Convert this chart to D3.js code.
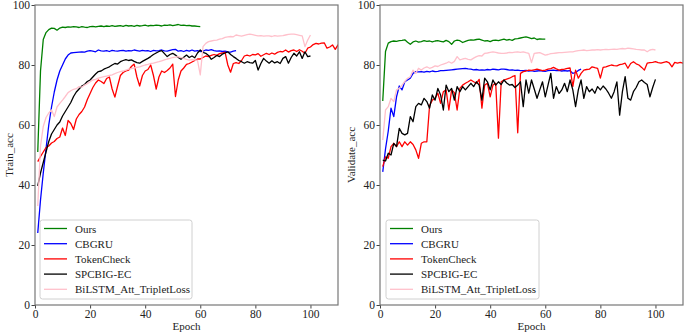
<!DOCTYPE html>
<html>
<head>
<meta charset="utf-8">
<script src="https://cdn.jsdelivr.net/npm/d3@7"></script>
<style>
  body { margin: 0; background: #fff; }
  svg text { font-family: "Liberation Serif", "Times New Roman", serif; fill: #222; }
</style>
</head>
<body>
<script>
// legend names, in plotting order
const seriesNames = ["Ours", "CBGRU", "TokenCheck", "SPCBIG-EC", "BiLSTM_Att_TripletLoss"];
const xTicks = [0, 20, 40, 60, 80, 100];
const yTicks = [0, 20, 40, 60, 80, 100];

// training accuracy per epoch (epoch 1..n)
const trainOurs = [51, 78, 88.5, 90.8, 91.8, 92.3, 92.2, 91.6, 92.3, 92.6, 92.5, 92.7, 92.6, 92.8, 92.7, 92.5, 92.8, 92.6, 92.5, 92.8,
  92.9, 92.7, 92.9, 93.0, 92.8, 93.0, 92.9, 93.1, 92.9, 93.0, 93.1, 92.9, 93.2, 93.0, 93.1, 92.9, 93.2, 93.0, 93.1, 93.3,
  93.0, 93.2, 93.1, 93.3, 93.2, 93.0, 93.3, 93.2, 93.4, 93.1, 93.3, 93.5, 93.2, 93.3, 93.1, 93.2, 93.0, 93.0, 92.9, 92.8];
const trainCbgru = [24, 35, 44, 52, 60, 66, 71, 75, 78, 80, 82, 83.3, 84, 84.1, 84.2, 84.3, 84.4, 84.3, 84.6, 84.8,
  84.6, 84.4, 85.0, 84.7, 84.6, 84.8, 84.5, 84.9, 84.7, 84.6, 84.8, 84.9, 84.6, 84.8, 84.7, 85.0, 84.8, 84.6, 84.9, 84.7,
  84.8, 84.5, 84.9, 84.7, 84.8, 85.0, 84.7, 84.6, 84.9, 85.1, 85.2, 84.6, 84.8, 84.5, 84.9, 84.6, 85.0, 84.6, 84.8, 84.5,
  84.6, 85.0, 84.9, 85.1, 84.8, 84.6, 84.7, 84.5, 84.6, 84.4, 84.3, 84.6, 84.8];
const trainToken = [47.8, 49.5, 51, 52.5, 53, 54, 54.5, 55.5, 56, 59, 56.5, 61.5, 60.5, 58.5, 62, 63.5, 64.5, 66, 68.5, 70.5,
  72.5, 74, 75, 74.5, 73.8, 75.5, 76, 72, 69.3, 73, 76.5, 77.5, 78, 78.3, 79.5, 80.3, 76, 73, 76.5, 78,
  78.5, 80, 76.5, 72, 76, 78, 77.5, 78.2, 79, 80.3, 69.5, 75, 78, 79, 80.2, 80.5, 81, 81.5, 82, 82,
  82.5, 83, 82.8, 83.2, 83.5, 83.2, 83.8, 84, 84.3, 80, 77.6, 80.5, 80.8, 80.5, 81.5, 83, 83.3, 83, 83.5, 83.4,
  83.8, 82.9, 83.4, 83.9, 83.5, 84, 83.6, 84.2, 84.5, 84.4, 85, 84.3, 84.8, 85, 84.5, 85.1, 84.6, 83.9, 85.6, 86,
  86.8, 87.2, 87, 87.3, 87.4, 85.6, 86, 86.7, 85.2, 86.7, 86.3];
const trainSpcbig = [39.7, 44, 47.5, 51, 54.5, 57, 58.5, 60, 61, 63, 64.5, 66, 67.5, 69.5, 71, 72, 73, 73.5, 74.5, 75,
  76, 77, 77.8, 78, 78.6, 79, 79.4, 80, 80.5, 80.3, 81.1, 81.5, 81.8, 81.5, 81.7, 81.2, 80.8, 80.6, 81.2, 81.7,
  82.2, 82.8, 83.5, 84, 84.5, 84.8, 83.8, 82.8, 83.5, 83.9, 83.3, 82.5, 81.9, 82.6, 83.3, 82.5, 83, 82.4, 84, 85,
  84.2, 83.9, 83.2, 81.9, 82.5, 83.2, 82.8, 83.6, 84, 84.4, 83.5, 82.8, 82.2, 81.5, 81.1, 80.6, 81.1, 80.8, 80.6, 81.5,
  78.3, 80.5, 82.2, 81.3, 80.6, 81.4, 80.7, 81.1, 80.5, 82.2, 82.8, 80.6, 82.5, 83.9, 83, 84.4, 82.2, 84.4, 82.8, 83];
const trainBilstm = [33, 53, 59.5, 62.5, 64, 65, 62.8, 66, 67.2, 68.3, 69.5, 70.8, 71.4, 71.9, 72.1, 72.8, 72.6, 73.3, 73.8, 74.4,
  75, 75.2, 75.6, 75.9, 76.1, 76.3, 76.5, 76.7, 77.1, 77.5, 77.8, 78, 78.3, 78.6, 78.8, 79, 79.2, 79.4, 79.7, 80,
  80.2, 80.5, 80.6, 80.9, 81.1, 81.4, 81.7, 82, 82.2, 82.5, 82.6, 82.8, 82.5, 82.2, 81.9, 81.6, 81.8, 81.7, 81.5, 76.7,
  86.1, 87.2, 87.8, 88, 88.2, 88.3, 88.6, 88.8, 89.2, 89.4, 89.5, 89.4, 90, 89.8, 89.6, 89.9, 90.1, 90.3, 90.1, 89.9,
  89.7, 89.8, 89.6, 89.7, 89.7, 89.5, 89.8, 89.6, 89.7, 89.8, 90, 90.2, 90.3, 90.3, 90.1, 89.9, 89.7, 86.1, 88.3, 90];

// validation accuracy per epoch
const valOurs = [68, 84.5, 87.3, 87.8, 88, 87.9, 88.1, 88.2, 88.4, 87.6, 86.9, 87.7, 88, 87.6, 87.8, 88.1, 87.9, 88, 87.7, 88,
  88.1, 87.9, 87.7, 88.2, 87.8, 86.9, 88, 88.3, 88.1, 87.5, 87.9, 88.2, 88.4, 88.3, 88.5, 88.6, 88.3, 88, 88.1, 87.8,
  88.2, 88.3, 88.1, 88.4, 88.6, 88.3, 88.5, 88.2, 88.7, 88.8, 89, 89.2, 89.4, 89.1, 88.8, 89, 88.5, 88.7, 88.6, 88.6];
const valCbgru = [44.4, 52, 58, 65.6, 62.8, 69.4, 73, 71.7, 74.4, 75, 75.6, 77.2, 77.8, 77.7, 77.8, 77.6, 77.9, 77.7, 78, 77.8,
  77.9, 78.1, 78.1, 78.2, 78.3, 78.4, 78.5, 78.6, 78.7, 78.8, 78.9, 78.7, 78.6, 78.4, 78.5, 78.3, 78.4, 78.3, 78.5, 78.4,
  78.6, 78.5, 78.4, 78.6, 78.6, 78.5, 78.3, 78.4, 78.2, 78.3, 78.1, 78.1, 78.2, 78.0, 78.1, 77.9, 78, 78.1, 78, 77.9,
  78.1, 78.2, 78.3, 78.1, 78.2, 78, 78.1, 78, 78.1, 77.2, 77.5, 78.2, 78.6];
const valToken = [46.1, 49.4, 48.9, 52.8, 53.9, 52.8, 54.4, 52.8, 54.4, 53.3, 54.4, 53.5, 51.7, 48.9, 53.9, 54.4, 54.4, 66.5, 68.3, 68.9,
  70.6, 67.2, 71.1, 71.7, 65, 71.7, 70.8, 65, 72.2, 73.3, 73.9, 74.4, 75, 74.4, 73.9, 75.2, 65.6, 73.3, 73.9, 69.4,
  73.3, 73.9, 55.6, 74.4, 75, 75.3, 75.6, 76.1, 76.5, 57.4, 77.2, 77.8, 78, 78.3, 78.2, 78.4, 78.6, 78.4, 78.1, 78.3,
  78.6, 78.8, 79.2, 78.7, 78.3, 78.5, 78.6, 78.9, 79, 72.8, 78.3, 75.6, 77.2, 78.3, 78.5, 78.6, 79.4, 79.1, 78.9, 75.6,
  79.2, 79.4, 79.7, 80, 79.8, 79.7, 80.1, 80.3, 80.6, 78.9, 80.5, 81.1, 80.4, 80, 79.2, 78.3, 80.6, 80.8, 80.9, 81.1,
  80.8, 80.6, 80.9, 81.1, 80.7, 79.4, 80.9, 80.6, 80.9, 80.6, 81];
const valSpcbig = [48.3, 48, 50.6, 50, 53.9, 52.8, 58.9, 57.2, 56.7, 57.2, 62.8, 61.1, 66.1, 67.2, 66.7, 68.9, 67.8, 65.6, 70, 68.3,
  72.2, 70, 65, 73.3, 71.1, 72.2, 68.3, 72.8, 71.1, 72.8, 71.7, 72.8, 73.9, 72.8, 74.4, 73.3, 68.3, 75.6, 74.4, 71.7,
  75, 73.3, 74.4, 73.5, 75, 74, 73.3, 73.5, 72.5, 73.3, 74.4, 66.1, 75, 70.6, 75, 72, 68.9, 71.7, 74.4, 69.4,
  73.3, 77.2, 68.9, 72.8, 70.5, 71.7, 73.9, 71.1, 75, 71.7, 66.1, 71.7, 75, 68.9, 72.8, 71.1, 72, 70.6, 72.8, 71.7,
  73, 72, 70.6, 68.9, 71.1, 74.4, 63.3, 71.1, 76.1, 68.9, 68.3, 71.1, 72.5, 74.4, 75, 74.2, 73.5, 69.4, 72.5, 75.2];
const valBilstm = [55, 65, 66.1, 68.9, 67.8, 71.7, 72.2, 73.3, 74.5, 75.6, 76.1, 78.3, 77.2, 78.9, 78.3, 79, 79.4, 78.9, 79.2, 79.7,
  79.5, 80, 80.3, 80.6, 81.1, 80.6, 81.2, 82.8, 81.7, 82, 82.2, 81.9, 81.7, 82.3, 82.8, 83.1, 83, 83.9, 84, 84.2,
  84.4, 84.2, 84, 83.9, 83.9, 84, 84.2, 84.1, 84.3, 84.4, 84.2, 84.4, 84.1, 83.9, 80.8, 83.9, 84, 84.1, 83.7, 83.3,
  83.5, 83.8, 83.9, 84, 84.1, 84.1, 84.2, 84.3, 84.4, 84.4, 84.6, 84.8, 84.9, 85, 84.8, 84.9, 85, 85, 85.1, 85,
  85.1, 85.2, 85.1, 85.2, 85.3, 85.2, 85.4, 85.5, 85.4, 85.6, 85.5, 85.4, 85.2, 85.1, 85, 85, 84.4, 85, 85.2, 85];

const colors = ["green", "blue", "red", "black", "pink"];

class AccChart {
  constructor(svg, opts) {
    this.svg = svg;
    this.opts = opts;            // position, size, label, series
    this.xscale = null;
    this.yscale = null;
  }

  init() {
    const o = this.opts;
    this.g = this.svg.append("g")
      .attr("transform", `translate(${o.left}, ${o.top})`);

    this.xscale = d3.scaleLinear().domain([0, 110]).range([0, o.width]);
    this.yscale = d3.scaleLinear().domain([0, 100]).range([o.height, 0]);

    // clip so TokenCheck runs off the right edge like the original
    this.g.append("clipPath").attr("id", o.id + "-clip")
      .append("rect").attr("width", o.width).attr("height", o.height);

    this.render();
  }

  render() {
    const o = this.opts;
    const line = d3.line()
      .x((d, i) => this.xscale(i + 1))
      .y(d => this.yscale(d));

    const lines = this.g.append("g").attr("clip-path", `url(#${o.id}-clip)`);
    o.series.forEach((vals, i) => {
      lines.append("path")
        .datum(vals)
        .attr("d", line)
        .attr("fill", "none")
        .attr("stroke", colors[i])
        .attr("stroke-width", 1.3)
        .attr("stroke-linejoin", "round");
    });

    // axes
    const xaxis = d3.axisBottom(this.xscale).tickValues(xTicks).tickSize(3.5).tickPadding(1);
    const yaxis = d3.axisLeft(this.yscale).tickValues(yTicks).tickSize(3.5).tickPadding(1.5);

    const xg = this.g.append("g").attr("transform", `translate(0, ${o.height})`).call(xaxis);
    const yg = this.g.append("g").call(yaxis);
    [xg, yg].forEach(a => {
      a.select(".domain").remove();
      a.selectAll("line").attr("stroke", "#444");
      a.selectAll("text").style("font-size", "11.5px").attr("fill", "#222");
    });

    // frame
    this.g.append("rect")
      .attr("width", o.width).attr("height", o.height)
      .attr("fill", "none").attr("stroke", "#777").attr("stroke-width", 1.2);

    this.g.append("text")
      .attr("x", o.width / 2).attr("y", o.height + 25)
      .attr("text-anchor", "middle")
      .style("font-size", "11px")
      .text("Epoch");

    this.g.append("text")
      .attr("transform", `translate(${o.ylabelX}, ${o.height / 2}) rotate(-90)`)
      .attr("text-anchor", "middle")
      .style("font-size", "11px")
      .text(o.ylabel);

    this.legend();
  }

  legend() {
    const o = this.opts;
    const lg = this.g.append("g").attr("transform", `translate(${o.legendX}, ${o.height - 85})`);
    lg.append("rect")
      .attr("width", o.legendW).attr("height", 79).attr("rx", 2.5)
      .attr("fill", "#fff").attr("fill-opacity", 0.8)
      .attr("stroke", "#d0d0d0").attr("stroke-width", 1);

    seriesNames.forEach((name, i) => {
      const y = 8.5 + i * 15.2;
      lg.append("line")
        .attr("x1", 4).attr("x2", 27).attr("y1", y).attr("y2", y)
        .attr("stroke", colors[i]).attr("stroke-width", 1.3);
      lg.append("text")
        .attr("x", 35).attr("y", y + 4)
        .style("font-size", "11px")
        .text(name);
    });
  }
}

const svg = d3.select("body").append("svg")
  .attr("width", 685).attr("height", 333);

const trainChart = new AccChart(svg, {
  id: "train", left: 35, top: 5, width: 303, height: 300,
  ylabel: "Train_acc", ylabelX: -22, legendX: 5, legendW: 152,
  series: [trainOurs, trainCbgru, trainToken, trainSpcbig, trainBilstm]
});
trainChart.init();

const valChart = new AccChart(svg, {
  id: "val", left: 380, top: 5, width: 303, height: 300,
  ylabel: "Validate_acc", ylabelX: -25, legendX: 6, legendW: 153,
  series: [valOurs, valCbgru, valToken, valSpcbig, valBilstm]
});
valChart.init();
</script>
</body>
</html>
